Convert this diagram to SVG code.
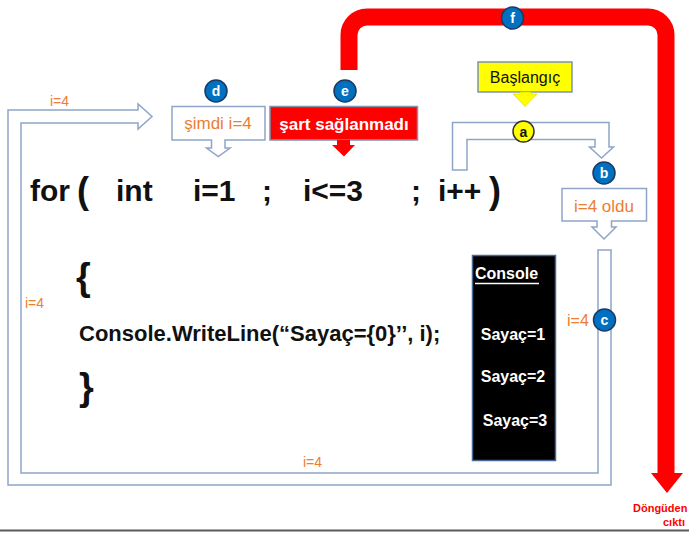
<svg xmlns="http://www.w3.org/2000/svg" width="689" height="533" viewBox="0 0 689 533">
  <style>
    .outline { fill: #ffffff; stroke: #8ea5c8; stroke-width: 1.5; stroke-linejoin: miter; }
    .code { font-family: "Liberation Sans", Arial, sans-serif; font-weight: bold; fill: #111111; }
    .orange { font-family: "Liberation Sans", Arial, sans-serif; fill: #ed7d31; }
    .badge { fill: #0070c0; stroke: #1b3a66; stroke-width: 1.5; }
    .badge-text { font-family: "Liberation Sans", Arial, sans-serif; font-weight: bold; font-size: 14px; fill: #ffffff; text-anchor: middle; }
    .console-text { font-family: "Liberation Sans", Arial, sans-serif; font-weight: bold; font-size: 16px; fill: #ffffff; }
    .exit-text { font-family: "Liberation Sans", Arial, sans-serif; font-weight: bold; font-size: 11px; fill: #ff0000; }
  </style>

  <rect width="689" height="533" fill="#ffffff"/>

  <!-- connectors: loop-back band, start bracket and exit path -->
  <g id="connectors">
    <!-- return band from the body back to the condition -->
    <path class="outline" d="M611,250 V485 H8 V110 H138 V104 L152,116.5 L138,129 V123 H21 V473 H598 V250 Z"/>
    <!-- start bracket a -> b -->
    <path class="outline" d="M452.5,170 V122.5 H609 V147 H613.5 L601.5,158 L589.5,147 H595 V139.5 H467 V170 Z"/>
    <!-- exit path -->
    <path d="M349,70 V35 A18,18 0 0 1 367,17 H648 A18,18 0 0 1 666,35 V475" fill="none" stroke="#ff0000" stroke-width="17"/>
    <polygon points="651,473 683,473 667,493" fill="#ff0000"/>
  </g>

  <!-- loop counter labels -->
  <g id="labels">
    <text class="orange" x="50" y="106" font-size="14">i=4</text>
    <text class="orange" x="25" y="308" font-size="14">i=4</text>
    <text class="orange" x="303" y="467" font-size="14">i=4</text>
    <text class="orange" x="567" y="326" font-size="16">i=4</text>
  </g>

  <!-- code -->
  <g id="code">
    <text class="code" x="30" y="201" font-size="30">for</text>
    <text class="code" x="77" y="203" font-size="36">(</text>
    <text class="code" x="116" y="201" font-size="30">int</text>
    <text class="code" x="193" y="201" font-size="30">i=1</text>
    <text class="code" x="262" y="201" font-size="30">;</text>
    <text class="code" x="303" y="201" font-size="30">i&lt;=3</text>
    <text class="code" x="411" y="201" font-size="30">;</text>
    <text class="code" x="438" y="201" font-size="30">i++</text>
    <text class="code" x="489" y="203" font-size="36">)</text>
    <text class="code" x="76" y="290" font-size="38">{</text>
    <text class="code" x="79" y="341" font-size="22">Console.WriteLine(“Sayaç={0}’’, i);</text>
    <text class="code" x="79" y="400" font-size="38">}</text>
  </g>

  <!-- console output -->
  <g id="console">
    <rect x="472.5" y="255.5" width="83" height="205" fill="#000000" stroke="#4a6a96" stroke-width="1.5"/>
    <text class="console-text" x="475" y="279">Console</text>
    <line x1="475" y1="283.5" x2="539" y2="283.5" stroke="#ffffff" stroke-width="1.5"/>
    <text class="console-text" x="513" y="340" text-anchor="middle">Sayaç=1</text>
    <text class="console-text" x="513" y="382" text-anchor="middle">Sayaç=2</text>
    <text class="console-text" x="515" y="426" text-anchor="middle">Sayaç=3</text>
  </g>

  <!-- d: now i=4 -->
  <g id="node-d">
    <path class="outline" d="M172,106.5 H265 V140 H225 V148 H230 L218.3,156.5 L206.5,148 H211.5 V140 H172 Z"/>
    <text class="orange" x="218" y="129" font-size="17" text-anchor="middle">şimdi i=4</text>
    <circle class="badge" cx="216" cy="91" r="11"/>
    <text class="badge-text" x="216" y="96">d</text>
  </g>

  <!-- e: condition not satisfied -->
  <g id="node-e">
    <rect x="270" y="106.5" width="147.5" height="33.5" fill="#ff0000" stroke="#7f93b3" stroke-width="1.5"/>
    <polygon points="337,140 350,140 350,145 355,145 344,156.5 332,145 337,145" fill="#ff0000"/>
    <text x="344" y="130" font-family="Liberation Sans, Arial, sans-serif" font-weight="bold" font-size="17" fill="#ffffff" text-anchor="middle">şart sağlanmadı</text>
    <circle class="badge" cx="345" cy="91" r="11"/>
    <text class="badge-text" x="345" y="96">e</text>
  </g>

  <!-- f: exit -->
  <g id="node-f">
    <circle class="badge" cx="512.5" cy="18" r="11"/>
    <text class="badge-text" x="512.5" y="23">f</text>
    <text class="exit-text" x="633" y="512">Döngüden</text>
    <text class="exit-text" x="663" y="526">cıktı</text>
  </g>

  <!-- start -->
  <g id="node-start">
    <rect x="478" y="62" width="94" height="30" fill="#ffff00" stroke="#7f93b3" stroke-width="1.5"/>
    <polygon points="520,92 531,92 531,94 537,94 525,106.5 513,94 520,94" fill="#ffff00" stroke="#c8c800" stroke-width="0.5"/>
    <text x="525" y="83" font-family="Liberation Sans, Arial, sans-serif" font-size="16" fill="#111111" text-anchor="middle">Başlangıç</text>
  </g>

  <!-- a -->
  <g id="node-a">
    <circle cx="523.5" cy="131.5" r="10.5" fill="#ffff00" stroke="#333333" stroke-width="1.5"/>
    <text x="523.5" y="136.5" font-family="Liberation Sans, Arial, sans-serif" font-weight="bold" font-size="14" fill="#111111" text-anchor="middle">a</text>
  </g>

  <!-- b: i became 4 -->
  <g id="node-b">
    <path class="outline" d="M562,188.5 H646.5 V221 H611.5 V227 H616 L604,239 L592,227 H597 V221 H562 Z"/>
    <text class="orange" x="604" y="212" font-size="17" text-anchor="middle">i=4 oldu</text>
    <circle class="badge" cx="604" cy="173" r="11"/>
    <text class="badge-text" x="604" y="178">b</text>
  </g>

  <!-- c -->
  <g id="node-c">
    <circle class="badge" cx="604.5" cy="320" r="11"/>
    <text class="badge-text" x="604.5" y="325">c</text>
  </g>

  <!-- page edge -->
  <line x1="0" y1="530.5" x2="689" y2="530.5" stroke="#5a5a5a" stroke-width="2"/>
</svg>
